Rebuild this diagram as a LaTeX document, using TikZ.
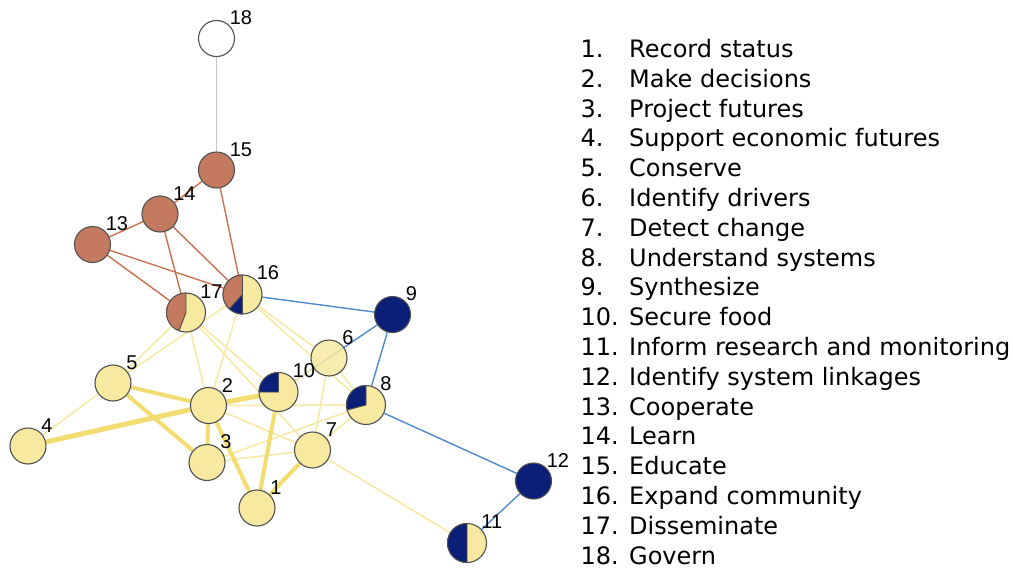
\documentclass[tikz,border=0pt]{standalone}
\usepackage{fontspec}
\setmainfont{DejaVu Sans}
\newfontfamily\lblfont{Liberation Sans}

\definecolor{goalyellow}{RGB}{248,233,161}
\definecolor{goalbrown}{RGB}{196,122,94}
\definecolor{goalnavy}{RGB}{11,31,120}
\definecolor{rimgray}{RGB}{80,80,80}
\definecolor{linkyellow}{RGB}{243,221,112}
\definecolor{paleyellow}{RGB}{247,234,165}
\definecolor{linkblue}{RGB}{78,138,208}
\definecolor{linkbrown}{RGB}{200,113,80}
\definecolor{linkgray}{RGB}{200,200,200}

\pgfdeclarelayer{links}
\pgfsetlayers{links,main}

% node, start angle, end angle, radius, colour
\newcommand{\pieslice}[5]{%
  \filldraw[fill=#5, draw=rimgray, line width=0.9pt]
    (#1.center) -- ++(#2:#4) arc[start angle=#2, end angle=#3, radius=#4] -- cycle;}

\begin{document}
\begin{tikzpicture}[x=1pt, y=1pt,
    goal/.style={circle, draw=rimgray, line width=1.1pt, fill=goalyellow,
      minimum size=36pt, inner sep=0pt},
    pie/.style={goal, minimum size=39pt},
    lbl/.style={font=\lblfont\fontsize{20}{20}\selectfont, inner sep=0pt},
    item/.style={anchor=base west, inner sep=0pt, font=\fontsize{24}{28}\selectfont}]
              \useasboundingbox (0,0) rectangle (1013,-570);

              \node[goal, fill=white, label={[lbl]45:18}] (18) at (216.5,-38.5) {};
              \node[goal, fill=goalbrown, label={[lbl]45:15}] (15) at (216.5,-170) {};
              \node[goal, fill=goalbrown, label={[lbl]45:14}] (14) at (160,-214) {};
              \node[goal, fill=goalbrown, label={[lbl]45:13}] (13) at (92.5,-244.5) {};

              \node[pie, label={[lbl]45:16}] (16) at (242.5,-294.5) {};
              \pieslice{16}{90}{228}{19.5pt}{goalbrown}
              \pieslice{16}{228}{270}{19.5pt}{goalnavy}
              \node[pie, label={[lbl]45:17}] (17) at (186,-312.5) {};
              \pieslice{17}{90}{249}{19.5pt}{goalbrown}

              \node[goal, fill=goalnavy, label={[lbl]45:9}] (9) at (392.5,-314.5) {};
              \node[goal, fill opacity=0.85, label={[lbl]45:6}] (6) at (329,-358) {};
              \node[pie, label={[lbl]45:10}] (10) at (278.5,-392) {};
              \pieslice{10}{90}{180}{19.5pt}{goalnavy}
              \node[pie, label={[lbl]45:8}] (8) at (366,-405) {};
              \pieslice{8}{90}{195}{19.5pt}{goalnavy}

              \node[goal, label={[lbl]45:5}] (5) at (113,-383) {};
              \node[goal, label={[lbl]45:2}] (2) at (208.5,-405.5) {};
              \node[goal, label={[lbl]45:4}] (4) at (28,-446) {};
              \node[goal, label={[lbl]45:3}] (3) at (207,-462.5) {};
              \node[goal, label={[lbl]45:7}] (7) at (312.5,-450) {};
              \node[goal, label={[lbl]45:1}] (1) at (257,-508) {};

              \node[goal, fill=goalnavy, label={[lbl]45:12}] (12) at (533.5,-481) {};
              \node[pie, label={[lbl]45:11}] (11) at (467,-543) {};
              \pieslice{11}{90}{270}{19.5pt}{goalnavy}

              \begin{pgfonlayer}{links}
                  \draw[linkgray, line width=1.3pt] (18) -- (15);

                  \begin{scope}[linkbrown, line width=1.4pt]
                      \draw (15) -- (14);
                      \draw (15) -- (16);
                      \draw (14) -- (13);
                      \draw (14) -- (17);
                      \draw (14) -- (16);
                      \draw (13) -- (16);
                      \draw (13) -- (17);
                  \end{scope}

                  \begin{scope}[linkblue, line width=1.4pt]
                      \draw (16) -- (9);
                      \draw (10) -- (9);
                      \draw (9) -- (8);
                      \draw (8) -- (12);
                      \draw (12) -- (11);
                  \end{scope}

                  \begin{scope}[paleyellow, line width=1.6pt]
                      \draw (4) -- (5);
                      \draw (5) -- (17);
                      \draw (5) -- (16);
                      \draw (17) -- (2);
                      \draw (17) -- (10);
                      \draw (17) -- (7);
                      \draw (16) -- (2);
                      \draw (16) -- (6);
                      \draw (16) -- (8);
                      \draw (10) -- (6);
                      \draw (6) -- (7);
                      \draw (6) -- (8);
                      \draw (2) -- (8);
                      \draw (2) -- (7);
                      \draw (3) -- (7);
                      \draw (3) -- (8);
                      \draw (7) -- (8);
                      \draw (7) -- (11);
                  \end{scope}

                  \begin{scope}[linkyellow, line width=4pt]
                      \draw[line width=5pt] (4) -- (2);
                      \draw[line width=5pt] (2) -- (10);
                      \draw (5) -- (2);
                      \draw (5) -- (3);
                      \draw (2) -- (3);
                      \draw (2) -- (1);
                      \draw (10) -- (1);
                      \draw (1) -- (7);
                  \end{scope}
              \end{pgfonlayer}

              \node[item] (t1) at (580.5,-57.5) {\makebox[48.5pt][l]{1.}Record status};
              \node[item] (t2) at (580.5,-87.3) {\makebox[48.5pt][l]{2.}Make decisions};
              \node[item] (t3) at (580.5,-117.1) {\makebox[48.5pt][l]{3.}Project futures};
              \node[item] (t4) at (580.5,-146.9) {\makebox[48.5pt][l]{4.}Support economic futures};
              \node[item] (t5) at (580.5,-176.7) {\makebox[48.5pt][l]{5.}Conserve};
              \node[item] (t6) at (580.5,-206.5) {\makebox[48.5pt][l]{6.}Identify drivers};
              \node[item] (t7) at (580.5,-236.3) {\makebox[48.5pt][l]{7.}Detect change};
              \node[item] (t8) at (580.5,-266.1) {\makebox[48.5pt][l]{8.}Understand systems};
              \node[item] (t9) at (580.5,-295.9) {\makebox[48.5pt][l]{9.}Synthesize};
              \node[item] (t10) at (580.5,-325.7) {\makebox[48.5pt][l]{10.}Secure food};
              \node[item] (t11) at (580.5,-355.5) {\makebox[48.5pt][l]{11.}Inform research and monitoring};
              \node[item] (t12) at (580.5,-385.3) {\makebox[48.5pt][l]{12.}Identify system linkages};
              \node[item] (t13) at (580.5,-415.1) {\makebox[48.5pt][l]{13.}Cooperate};
              \node[item] (t14) at (580.5,-444.9) {\makebox[48.5pt][l]{14.}Learn};
              \node[item] (t15) at (580.5,-474.7) {\makebox[48.5pt][l]{15.}Educate};
              \node[item] (t16) at (580.5,-504.5) {\makebox[48.5pt][l]{16.}Expand community};
              \node[item] (t17) at (580.5,-534.3) {\makebox[48.5pt][l]{17.}Disseminate};
              \node[item] (t18) at (580.5,-564.1) {\makebox[48.5pt][l]{18.}Govern};

          \end{tikzpicture}
\end{document}
